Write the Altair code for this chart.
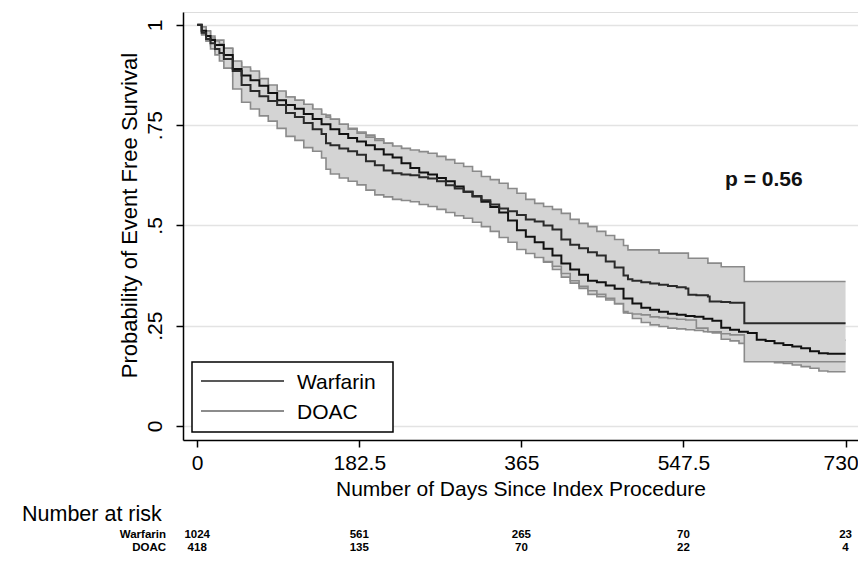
import altair as alt
import pandas as pd

# ---------------- data ----------------
w_days = [0, 5, 10, 15, 20,
          30, 40, 50, 60, 70, 80, 90, 100, 110, 120,
          130, 140, 150, 160, 170, 180, 190, 200, 210, 220,
          230, 240, 250, 260, 270, 280, 290, 300, 310, 320,
          330, 340, 350, 360, 370, 380, 390, 400, 410, 420,
          430, 440, 450, 460, 470, 480, 490, 500, 510, 520,
          530, 540, 550, 560, 570, 580, 590, 600, 610, 620,
          630, 640, 650, 660, 670, 680, 690, 700, 710, 720,
          730]
w_surv = [1.0, 0.985, 0.972, 0.962, 0.95,
          0.925, 0.89, 0.874, 0.862, 0.848, 0.83, 0.812, 0.80, 0.791, 0.778,
          0.765, 0.752, 0.74, 0.728, 0.718, 0.709, 0.70, 0.69, 0.677, 0.669,
          0.655, 0.643, 0.632, 0.627, 0.618, 0.61, 0.597, 0.584, 0.572, 0.559,
          0.546, 0.532, 0.512, 0.488, 0.472, 0.458, 0.442, 0.425, 0.405, 0.39,
          0.377, 0.362, 0.358, 0.35, 0.342, 0.318, 0.305, 0.295, 0.29, 0.285,
          0.28, 0.277, 0.274, 0.272, 0.267, 0.262, 0.245, 0.24, 0.235, 0.232,
          0.215, 0.212, 0.206, 0.202, 0.198, 0.194, 0.186, 0.181, 0.18, 0.18,
          0.18]
w_lower = [1.0, 0.975, 0.96, 0.948, 0.935,
           0.908, 0.872, 0.856, 0.843, 0.828, 0.81, 0.79, 0.778, 0.768, 0.755,
           0.741, 0.727, 0.715, 0.703, 0.692, 0.683, 0.673, 0.662, 0.648, 0.64,
           0.626, 0.613, 0.602, 0.597, 0.587, 0.579, 0.565, 0.552, 0.54, 0.526,
           0.513, 0.499, 0.479, 0.455, 0.438, 0.424, 0.408, 0.39, 0.371, 0.356,
           0.343, 0.328, 0.322, 0.314, 0.305, 0.282, 0.268, 0.258, 0.252, 0.248,
           0.244, 0.242, 0.24, 0.238, 0.235, 0.232, 0.216, 0.212, 0.206, 0.203,
           0.194, 0.19, 0.158, 0.156, 0.152, 0.148, 0.144, 0.137, 0.135, 0.135,
           0.135]
w_upper = [1.0, 0.993, 0.983, 0.972, 0.962,
           0.94, 0.906, 0.89, 0.879, 0.865, 0.848, 0.831, 0.82, 0.812, 0.80,
           0.787, 0.775, 0.764, 0.752, 0.742, 0.733, 0.725, 0.716, 0.704, 0.696,
           0.683, 0.671, 0.661, 0.656, 0.647, 0.64, 0.627, 0.615, 0.603, 0.591,
           0.578, 0.564, 0.545, 0.521, 0.505, 0.491, 0.475, 0.459, 0.44, 0.424,
           0.411, 0.396, 0.392, 0.385, 0.377, 0.353, 0.34, 0.33, 0.325, 0.32,
           0.315, 0.312, 0.309, 0.307, 0.302, 0.297, 0.28, 0.275, 0.27, 0.267,
           0.25, 0.247, 0.24, 0.236, 0.232, 0.228, 0.22, 0.215, 0.214, 0.214,
           0.214]

d_days = [0, 5, 10, 15, 20, 25, 30,
          40, 50, 60, 70, 80, 90, 100, 110, 120, 130, 140,
          145,
          150, 160, 170, 180, 190, 200, 210, 220, 230, 240,
          250, 260, 270, 280, 290, 300, 310, 320, 330, 340,
          350, 360, 370, 380, 390, 400, 410, 420, 430, 440,
          450, 460, 470, 480,
          485,
          490, 500, 510, 520, 530, 540, 550,
          553, 562, 575, 577, 590, 600, 616, 730]
d_surv = [1.0, 0.98, 0.965, 0.954, 0.94, 0.93, 0.915,
          0.885, 0.85, 0.835, 0.822, 0.81, 0.80, 0.78, 0.77, 0.755, 0.74, 0.728,
          0.705,
          0.70, 0.692, 0.685, 0.676, 0.66, 0.65, 0.637, 0.63, 0.627, 0.625,
          0.62, 0.617, 0.61, 0.60, 0.592, 0.584, 0.573, 0.563, 0.552, 0.542,
          0.535, 0.526, 0.515, 0.51, 0.50, 0.49, 0.465, 0.452, 0.443, 0.433,
          0.425, 0.41, 0.395, 0.375,
          0.366,
          0.362, 0.358, 0.355, 0.352, 0.349, 0.346, 0.343,
          0.327, 0.326, 0.323, 0.31, 0.309, 0.307, 0.256, 0.256]
d_upper = [1.0, 0.995, 0.985, 0.967, 0.96, 0.952, 0.942,
           0.91, 0.895, 0.885, 0.866, 0.85, 0.835, 0.82, 0.812, 0.802, 0.79, 0.777,
           0.77,
           0.765, 0.752, 0.74, 0.73, 0.72, 0.712, 0.705, 0.698, 0.692, 0.688,
           0.684, 0.68, 0.672, 0.664, 0.655, 0.647, 0.635, 0.622, 0.614, 0.605,
           0.592, 0.58, 0.565, 0.555, 0.547, 0.54, 0.53, 0.515, 0.505, 0.497,
           0.485, 0.475, 0.465, 0.45,
           0.439,
           0.439, 0.439, 0.439, 0.431, 0.431, 0.431, 0.431,
           0.418, 0.418, 0.406, 0.406, 0.397, 0.397, 0.36, 0.36]
d_lower = [1.0, 0.978, 0.96, 0.94, 0.925, 0.91, 0.892,
           0.84, 0.807, 0.79, 0.773, 0.76, 0.742, 0.722, 0.712, 0.694, 0.685, 0.668,
           0.64,
           0.628, 0.618, 0.61, 0.601, 0.588, 0.576, 0.571, 0.565, 0.562, 0.559,
           0.552, 0.547, 0.54, 0.532, 0.524, 0.518, 0.508, 0.497, 0.485, 0.47,
           0.458, 0.44, 0.43, 0.42, 0.41, 0.398, 0.38, 0.362, 0.348, 0.337,
           0.328, 0.318, 0.305, 0.285,
           0.281,
           0.279, 0.277, 0.272, 0.27, 0.268, 0.266, 0.264,
           0.264, 0.244, 0.235, 0.235, 0.23, 0.227, 0.16, 0.16]

x_ticks = [0, 182.5, 365, 547.5, 730]
y_ticks = [0, 0.25, 0.5, 0.75, 1]
groups = ["Warfarin", "DOAC"]
risk_days = [0, 182.5, 365, 547.5, 730]
warfarin_risk = [1024, 561, 265, 70, 23]
doac_risk = [418, 135, 70, 22, 4]
p_label = "p = 0.56"
risk_title = "Number at risk"
x_title = "Number of Days Since Index Procedure"
y_title = "Probability of Event Free Survival"

# ---------------- tables ----------------
w_df = pd.DataFrame({"day": w_days, "surv": w_surv, "lo": w_lower, "hi": w_upper})
d_df = pd.DataFrame({"day": d_days, "surv": d_surv, "lo": d_lower, "hi": d_upper})
risk_df = pd.DataFrame({"day": risk_days, "w": warfarin_risk, "d": doac_risk})
one = pd.DataFrame({"k": [0]})

FONT = "Liberation Sans"
FILL = "#d4d4d4"
EDGE = "#8a8a8a"

xscale = alt.Scale(domain=[-16, 744], nice=False, zero=False)
yscale = alt.Scale(domain=[-0.035, 1.032], nice=False, zero=False)

xaxis = alt.Axis(values=x_ticks, labelExpr="'' + datum.value", grid=False, title=x_title,
                 domainColor="black", domainWidth=1.5, tickColor="black",
                 tickWidth=1.5, tickSize=7, labelFontSize=21, labelColor="black",
                 labelPadding=5, labelFont=FONT, titleFont=FONT, titleFontSize=21,
                 labelOffset={"condition": {"test": "datum.value == 730", "value": -5},
                              "value": 0},
                 titleFontWeight="normal", titleColor="black",
                 titleBaseline="alphabetic", titleY=55)
yaxis = alt.Axis(values=y_ticks,
                 labelExpr="datum.value == 0 ? '0' : datum.value == 1 ? '1' : substring(format(datum.value, '.2~f'), 1)",
                 grid=True, gridColor="#e3e3e3", gridWidth=1.5, title=y_title,
                 domainColor="black", domainWidth=1.5, tickColor="black",
                 tickWidth=1.5, tickSize=7, labelFontSize=21, labelColor="black",
                 labelAngle=270, labelAlign="center", labelBaseline="alphabetic",
                 labelPadding=15, labelFont=FONT, titleFont=FONT, titleFontSize=22,
                 titleFontWeight="normal", titleColor="black", titleAngle=270,
                 titleAlign="center", titleBaseline="alphabetic", titleX=-47, titleY=203)


def X(field="day"):
    return alt.X(f"{field}:Q", scale=xscale, axis=xaxis)


def Y(field):
    return alt.Y(f"{field}:Q", scale=yscale, axis=yaxis)


def band(df):
    area = alt.Chart(df).mark_area(interpolate="step-after", color=FILL, opacity=1).encode(
        x=X(), y=Y("lo"), y2="hi:Q")
    edges = alt.Chart(df).transform_fold(["lo", "hi"], as_=["edge", "val"]).mark_line(
        interpolate="step-after", color=EDGE, strokeWidth=1.6).encode(
        x=X(), y=Y("val"), detail="edge:N")
    return area + edges


w_line = alt.Chart(w_df).mark_line(interpolate="step-after", color="#111111",
                                   strokeWidth=2).encode(x=X(), y=Y("surv"))
d_line = alt.Chart(d_df).mark_line(interpolate="step-after", color="#2a2a2a",
                                   strokeWidth=2).encode(x=X(), y=Y("surv"))

# legend box (inside plot, lower left)
leg_box = alt.Chart(one).mark_rect(fill="white", stroke="black", strokeWidth=1.5).encode(
    x=alt.value(9), x2=alt.value(210), y=alt.value(350), y2=alt.value(420))
leg_w = alt.Chart(one).mark_rule(color="#222222", strokeWidth=1.6).encode(
    x=alt.value(18), x2=alt.value(101), y=alt.value(369))
leg_d = alt.Chart(one).mark_rule(color="#8c8c8c", strokeWidth=2).encode(
    x=alt.value(18), x2=alt.value(101), y=alt.value(399))
leg_wt = alt.Chart(one).mark_text(text=groups[0], font=FONT, fontSize=21, align="left",
                                  baseline="middle", color="black").encode(
    x=alt.value(114), y=alt.value(371))
leg_dt = alt.Chart(one).mark_text(text=groups[1], font=FONT, fontSize=21, align="left",
                                  baseline="middle", color="black").encode(
    x=alt.value(114), y=alt.value(401))

p_text = alt.Chart(one).mark_text(text=p_label, font=FONT, fontSize=21, fontWeight="bold",
                                  color="#111111", align="center", baseline="middle").encode(
    x=alt.X(datum=638, type="quantitative", scale=xscale, axis=xaxis),
    y=alt.Y(datum=0.613, type="quantitative", scale=yscale, axis=yaxis))

# number-at-risk table
RISK_FS = 11.5
risk_head = alt.Chart(one).mark_text(text=risk_title, font=FONT, fontSize=21.5,
                                     align="left", baseline="alphabetic", color="black").encode(
    x=alt.value(-161), y=alt.value(509))
row_w = alt.Chart(one).mark_text(text=groups[0], font=FONT, fontSize=RISK_FS, fontWeight="bold",
                                 align="right", baseline="middle", color="black").encode(
    x=alt.value(-17), y=alt.value(523))
row_d = alt.Chart(one).mark_text(text=groups[1], font=FONT, fontSize=RISK_FS, fontWeight="bold",
                                 align="right", baseline="middle", color="black").encode(
    x=alt.value(-17), y=alt.value(536))
num_w = alt.Chart(risk_df).mark_text(font=FONT, fontSize=RISK_FS, fontWeight="bold",
                                     align="center", baseline="middle", color="black").encode(
    x=X(), y=alt.value(523), text="w:Q")
num_d = alt.Chart(risk_df).mark_text(font=FONT, fontSize=RISK_FS, fontWeight="bold",
                                     align="center", baseline="middle", color="black").encode(
    x=X(), y=alt.value(536), text="d:Q")

chart = alt.layer(
    band(w_df), band(d_df), w_line, d_line,
    leg_box, leg_w, leg_d, leg_wt, leg_dt, p_text,
    risk_head, row_w, row_d, num_w, num_d,
).properties(
    width=675, height=428,
    padding={"left": 175, "top": 4, "right": 0, "bottom": 126},
    autosize=alt.AutoSizeParams(type="none"),
    background="white",
).configure_view(stroke=None).configure(font=FONT)

chart.save("out.html", embed_options={"renderer": "svg", "actions": False})
